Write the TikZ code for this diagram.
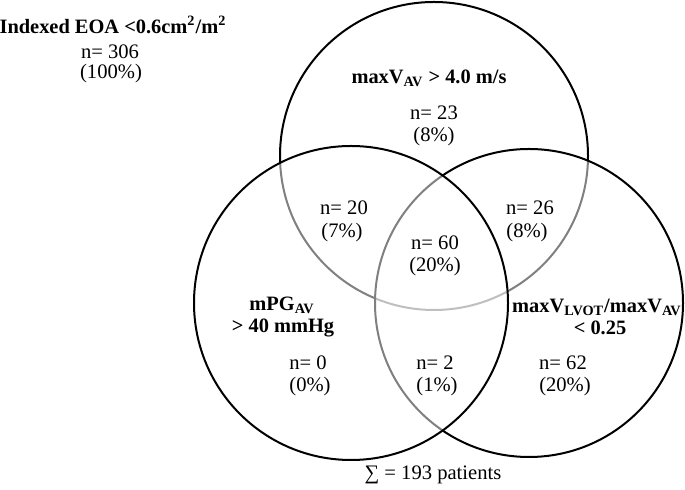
\documentclass[tikz,border=0pt]{standalone}
\usepackage{fontspec}
\setmainfont{Liberation Serif}
\begin{document}
\begin{tikzpicture}[x=0.5pt,y=-0.5pt,
  setc/.style={draw=black,line width=1pt,fill=white,fill opacity=0.5,draw opacity=1},
  lab/.style={font=\fontsize{10.2}{12}\selectfont\bfseries,inner sep=0pt,align=center},
  cnt/.style={font=\fontsize{10.3}{12}\selectfont,inner sep=0pt,align=center}]
\useasboundingbox (0,0) rectangle (685,490);
\draw[setc] (434,156) circle[radius=77pt];
\draw[setc] (529,303) circle[radius=77pt];
\draw[setc] (351,303) circle[radius=78.5pt];
\node[lab] (t0) at (113,25) {Indexed EOA <0.6cm\textsuperscript{2}/m\textsuperscript{2}};
\node[cnt] (t1) at (110,52) {n= 306};
\node[cnt] (t2) at (111,74) {(100\%)};
\node[lab] (a0) at (429,78) {maxV\textsubscript{AV} > 4.0 m/s};
\node[cnt] (a1) at (434,113) {n= 23};
\node[cnt] (a2) at (434,137) {(8\%)};
\node[cnt] (b1) at (344,208) {n= 20};
\node[cnt] (b2) at (342,233) {(7\%)};
\node[cnt] (c1) at (435,243) {n= 60};
\node[cnt] (c2) at (435,267) {(20\%)};
\node[cnt] (d1) at (530,208) {n= 26};
\node[cnt] (d2) at (527,233) {(8\%)};
\node[lab] (e0) at (282,305) {mPG\textsubscript{AV}};
\node[lab] (e1) at (283,328) {> 40 mmHg};
\node[lab] (f0) at (597,307) {maxV\textsubscript{LVOT}/maxV\textsubscript{AV}};
\node[lab] (f1) at (600,328) {< 0.25};
\node[cnt] (g1) at (308,363) {n= 0};
\node[cnt] (g2) at (310,387) {(0\%)};
\node[cnt] (h1) at (435,363) {n= 2};
\node[cnt] (h2) at (437,387) {(1\%)};
\node[cnt] (i1) at (563,363) {n= 62};
\node[cnt] (i2) at (565,387) {(20\%)};
\node[cnt] (s) at (433,475) {∑ = 193 patients};
\end{tikzpicture}
\end{document}
